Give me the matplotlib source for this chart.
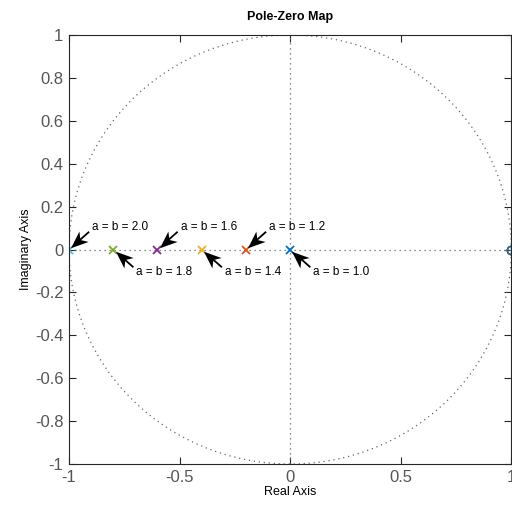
import numpy as np
import matplotlib
matplotlib.use("Agg")
import matplotlib.pyplot as plt
from matplotlib.markers import MarkerStyle
from matplotlib.path import Path
from matplotlib.transforms import Affine2D

plt.rcParams['font.family'] = ['Liberation Sans', 'DejaVu Sans']

# poles of each system (real axis) and the common zero
gains = ['2.0', '1.8', '1.6', '1.4', '1.2', '1.0']
pole_re = [-1.0, -0.8, -0.6, -0.4, -0.2, 0.0]
zero_re = [1.0, 1.0, 1.0, 1.0, 1.0, 1.0]
colors = ['#4DBEEE', '#77AC30', '#7E2F8E', '#EDB120', '#D95319', '#0072BD']
label_side = [1, -1, 1, -1, 1, -1]   # above / below the axis

xticks = [-1, -0.5, 0, 0.5, 1]
xticklabels = ['-1', '-0.5', '0', '0.5', '1']
yticks = np.round(np.arange(-1, 1.01, 0.2), 1)
yticklabels = ['-1', '-0.8', '-0.6', '-0.4', '-0.2', '0', '0.2', '0.4', '0.6', '0.8', '1']

fig = plt.figure(figsize=(5.12, 5.08), dpi=100)
ax = fig.add_axes([0.1348, 0.0866, 0.864, 0.8445])

# unit circle and axis lines
dots = (0, (1, 3))
t = np.linspace(0, 2 * np.pi, 400)
ax.plot(np.cos(t), np.sin(t), ls=dots, color='#666666', lw=0.9)
ax.axhline(0, ls=dots, color='#666666', lw=0.9)
ax.axvline(0, ls=dots, color='#666666', lw=0.9)

ax.set_xlim(-1, 1)
ax.set_ylim(-1, 1)

# swept-back arrowhead (tip at +0.5, pointing +x)
head = Path([(0.5, 0), (-0.5, 0.4), (-0.22, 0), (-0.5, -0.4), (0.5, 0)],
            [Path.MOVETO, Path.LINETO, Path.LINETO, Path.LINETO, Path.CLOSEPOLY])
head_ms = 12.5

for p, z, c, g, s in zip(pole_re, zero_re, colors, gains, label_side):
    ax.plot(z, 0, 'o', mfc='none', mec=c, ms=6, mew=1.0)
    ax.plot(p, 0, 'x', color=c, ms=6, mew=1.3)
    ax.text(p + 0.105, 0.105 * s, 'a = b = ' + g, fontsize=8.5,
            ha='left', va='center')
    tip = (p + 0.008, 0.007 * s)
    tail = (p + 0.088, 0.08 * s)
    d0 = ax.transData.transform(tail)
    d1 = ax.transData.transform(tip)
    vec = d1 - d0
    ang = np.degrees(np.arctan2(vec[1], vec[0]))
    # marker centre placed half a head length back from the tip
    size_px = head_ms * fig.dpi / 72
    ctr = d1 - vec / np.hypot(*vec) * size_px / 2
    cx, cy = ax.transData.inverted().transform(ctr)
    ax.plot([tail[0], cx], [tail[1], cy], color='black', lw=1.3)
    m = MarkerStyle(head, transform=Affine2D().rotate_deg(ang))
    ax.plot(cx, cy, marker=m, ms=head_ms, color='black', mew=0)

ax.set_xticks(xticks)
ax.set_xticklabels(xticklabels)
ax.set_yticks(yticks)
ax.set_yticklabels(yticklabels)
ax.tick_params(direction='in', length=5, width=0.8, top=True, right=True,
               labelsize=12, colors='#262626', labelcolor='#555555', pad=4)
for sp in ax.spines.values():
    sp.set_color('#262626')
    sp.set_linewidth(0.8)

ax.set_xlabel('Real Axis', fontsize=9, labelpad=1)
ax.set_ylabel('Imaginary Axis', fontsize=9, labelpad=2)
ax.set_title('Pole-Zero Map', fontsize=9, fontweight='bold', pad=11)

fig.savefig('out.png', dpi=100)
